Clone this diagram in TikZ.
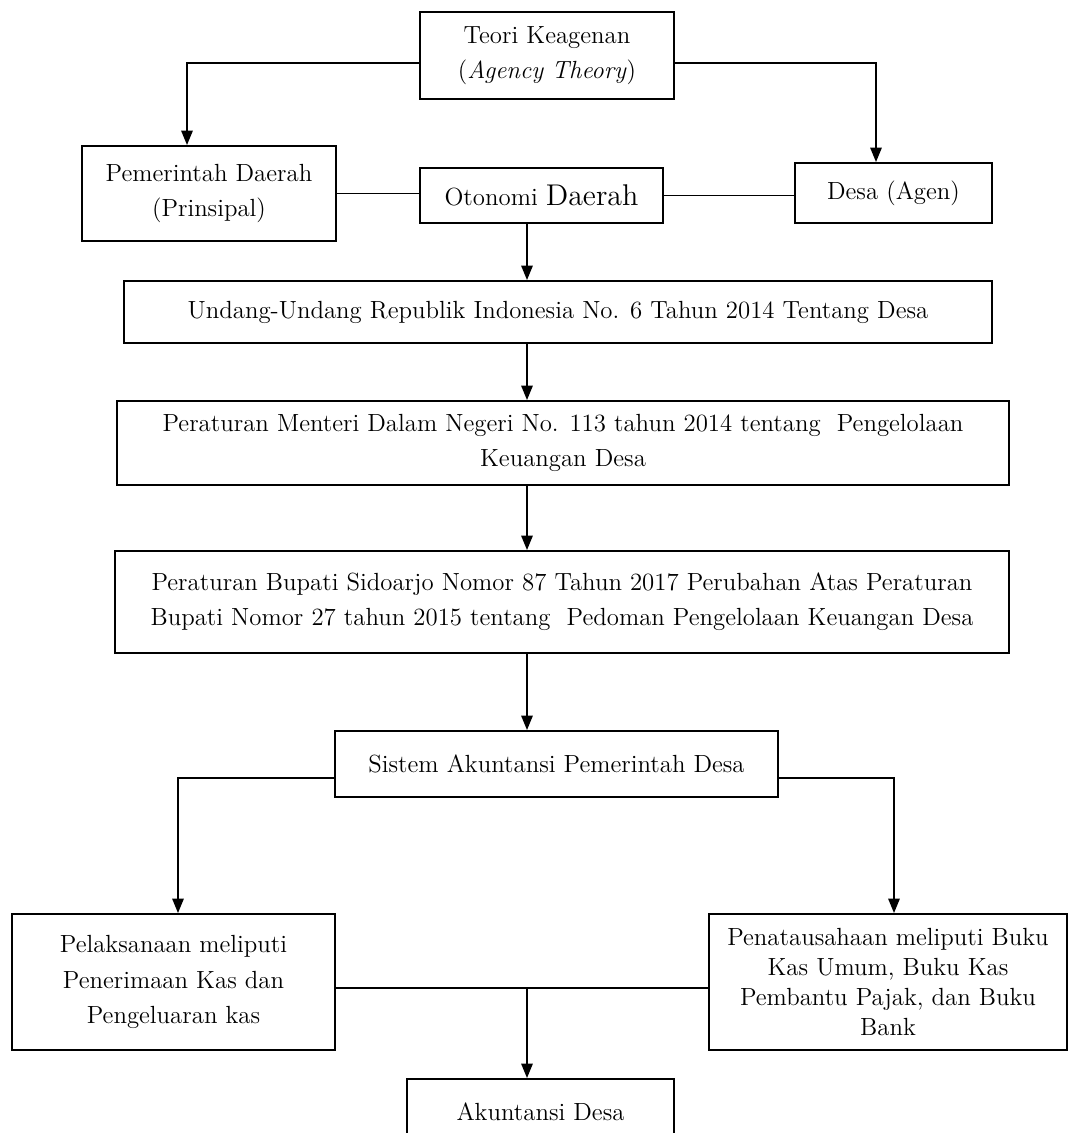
\documentclass[tikz,border=0pt]{standalone}
\usetikzlibrary{arrows.meta,calc}
\tikzstyle{box}=[draw, line width=0.9pt, align=center, inner sep=2pt, font=\fontsize{12}{17}\selectfont]
\tikzstyle{tight box}=[box, font=\fontsize{12}{14.5}\selectfont]
\tikzstyle{link}=[draw, line width=0.9pt, -]
\tikzstyle{arrow link}=[link, -{Triangle[length=7pt,width=5.5pt]}]
\begin{document}
\begin{tikzpicture}[x=0.017cm, y=-0.017cm]
	\clip (0,0) rectangle (1069,1133);
	% First we draw the boxes
	\foreach \pos/\label/\w/\h/\kind/\name in {
		{(547,55.5)/teori/254/87/box/Teori Keagenan\\(\textit{Agency Theory})},
		{(209,193.5)/pemda/254/95/box/Pemerintah Daerah\\(Prinsipal)},
		{(541.5,195.5)/otonomi/243/55/box/Otonomi {\fontsize{14.5}{17}\selectfont Daerah}},
		{(893.5,193)/desa/197/60/box/Desa (Agen)},
		{(558,312)/uu/868/62/box/Undang-Undang Republik Indonesia No. 6 Tahun 2014 Tentang Desa},
		{(563,443)/permen/892/84/box/Peraturan Menteri Dalam Negeri No. 113 tahun 2014 tentang\ \ Pengelolaan\\Keuangan Desa},
		{(562,602)/perbup/894/102/box/Peraturan Bupati Sidoarjo Nomor 87 Tahun 2017 Perubahan Atas Peraturan\\Bupati Nomor 27 tahun 2015 tentang\ \ Pedoman Pengelolaan Keuangan Desa},
		{(556.5,764)/sistem/443/66/box/Sistem Akuntansi Pemerintah Desa},
		{(173.5,982)/pelaksanaan/323/136/box/Pelaksanaan meliputi\\Penerimaan Kas dan\\Pengeluaran kas},
		{(888,982)/penata/358/136/tight box/Penatausahaan meliputi Buku\\Kas Umum, Buku Kas\\Pembantu Pajak, dan Buku\\Bank},
		{(540.5,1112)/akuntansi/267/66/box/Akuntansi Desa}}
	\node[\kind, minimum width=\w*0.017cm, minimum height=\h*0.017cm] (\label) at \pos {\name};

	% Connect the boxes
	\coordinate (spine) at (527,0);
	\path[arrow link] ($(teori.west)+(0,7.5)$) -| ($(pemda.north)+(-22,0)$);
	\path[arrow link] ($(teori.east)+(0,7.5)$) -| ($(desa.north)+(-17.5,0)$);
	\path[link] (pemda.east) -- (pemda.east -| otonomi.west);
	\path[link] (otonomi.east) -- (otonomi.east -| desa.west);
	\foreach \source/\dest in {otonomi/uu, uu/permen, permen/perbup, perbup/sistem}
	\path[arrow link] (\source.south -| spine) -- (\dest.north -| spine);
	\path[arrow link] ($(sistem.west)+(0,14)$) -| ($(pelaksanaan.north)+(4.5,0)$);
	\path[arrow link] ($(sistem.east)+(0,14)$) -| ($(penata.north)+(6,0)$);
	\coordinate (join) at ($(pelaksanaan.east)+(0,6)$);
	\path[link] (join) -- (join -| penata.west);
	\path[arrow link] (join -| spine) -- (akuntansi.north -| spine);
\end{tikzpicture}
\end{document}
